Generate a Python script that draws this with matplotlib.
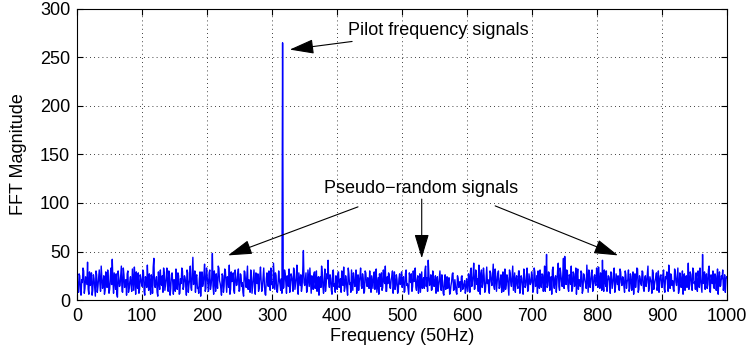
import numpy as np
import matplotlib
matplotlib.use("Agg")
import matplotlib.pyplot as plt

plt.rcParams['font.family'] = ['Liberation Sans', 'DejaVu Sans']

# magnitude at even frequency bins (0, 2, 4, ...)
magnitude_even = [
    22, 8, 25, 5, 18, 30, 12, 20, 39, 6, 15, 28, 10, 22, 4, 26, 14, 31, 9, 24, 17, 6, 29, 13, 21,
    11, 33, 42, 7, 19, 27, 3, 23, 15, 35, 8, 26, 18, 5, 30, 12, 24, 9, 20, 34, 6, 16, 28, 11, 22,
    14, 29, 5, 21, 36, 10, 18, 26, 7, 43, 13, 24, 4, 19, 31, 15, 8, 27, 17, 33, 9, 22, 12, 28, 6,
    20, 32, 11, 25, 7, 17, 30, 14, 23, 5, 28, 16, 35, 10, 44, 19, 8, 26, 13, 22, 4, 29, 18, 37, 12,
    24, 9, 31, 15, 48, 6, 21, 27, 12, 33, 17, 5, 25, 14, 30, 8, 22, 36, 11, 19, 28, 7, 24, 16, 32,
    10, 26, 18, 4, 29, 13, 35, 21, 8, 24, 15, 31, 6, 20, 27, 12, 34, 9, 23, 17, 5, 28, 14, 22, 33,
    19, 38, 11, 25, 8, 30, 16, 22, 265, 13, 27, 7, 20, 32, 12, 24, 9, 29, 17, 36, 6, 21, 26, 14, 51,
    15, 28, 10, 23, 33, 7, 19, 26, 12, 30, 18, 5, 24, 35, 14, 21, 9, 27, 41, 13, 22, 6, 31, 17, 25,
    11, 29, 16, 8, 24, 34, 13, 20, 5, 27, 18, 31, 10, 23, 15, 7, 26, 19, 33, 12, 22, 9, 28, 14, 21,
    30, 8, 18, 25, 11, 32, 16, 6, 23, 28, 13, 20, 35, 9, 17, 26, 12, 24, 7, 29, 15, 21, 10, 27, 18,
    13, 24, 9, 31, 17, 6, 22, 27, 14, 19, 33, 10, 25, 16, 8, 29, 20, 12, 35, 23, 41, 15, 26, 11, 21,
    18, 7, 24, 14, 30, 10, 20, 5, 26, 16, 12, 23, 8, 19, 28, 11, 15, 6, 22, 17, 9, 25, 13, 20, 10,
    16, 27, 8, 33, 19, 38, 12, 29, 22, 36, 6, 31, 17, 25, 10, 34, 21, 7, 28, 15, 37, 11, 24, 18, 30,
    13, 26, 20, 9, 32, 16, 23, 5, 28, 14, 35, 19, 8, 25, 12, 30, 17, 22, 6, 27, 15, 33, 10, 21, 18,
    24, 11, 29, 16, 7, 22, 31, 13, 26, 19, 9, 47, 15, 28, 21, 6, 34, 12, 25, 18, 38, 10, 27, 14, 43,
    45, 16, 30, 9, 23, 35, 12, 27, 18, 6, 32, 21, 14, 28, 10, 25, 17, 36, 8, 24, 19, 31, 11, 26, 15,
    22, 34, 12, 27, 41, 9, 20, 30, 16, 24, 7, 28, 18, 33, 13, 21, 25, 10, 29, 15, 23, 8, 26, 19, 31,
    12, 24, 17, 6, 27, 20, 32, 11, 22, 15, 29, 9, 25, 18, 35, 13, 21, 7, 28, 16, 23, 10, 30, 19, 26,
    14, 31, 8, 22, 17, 36, 12, 25, 20, 9, 29, 15, 33, 11, 24, 18, 6, 27, 21, 13, 38, 16, 26, 10, 30,
    19, 28, 9, 24, 33, 14, 47, 20, 11, 27, 16, 35, 8, 23, 30, 12, 25, 18, 6, 29, 15, 22, 10, 26, 21,
]
# magnitude at odd frequency bins (1, 3, 5, ...)
magnitude_odd = [
    14, 27, 9, 21, 33, 7, 24, 16, 11, 29, 18, 5, 26, 13, 30, 8, 22, 17, 35, 12, 25, 10, 19, 31, 7,
    24, 16, 20, 28, 11, 6, 30, 14, 25, 9, 33, 13, 21, 27, 8, 19, 15, 32, 10, 23, 29, 12, 7, 26, 17,
    31, 9, 24, 13, 18, 27, 6, 22, 34, 15, 20, 8, 29, 11, 17, 25, 33, 10, 23, 14, 30, 5, 26, 19, 21,
    9, 15, 28, 6, 22, 33, 11, 25, 17, 31, 8, 21, 13, 27, 16, 30, 24, 12, 7, 29, 19, 14, 26, 9, 33,
    18, 28, 11, 23, 14, 30, 9, 17, 35, 20, 12, 27, 8, 32, 19, 24, 13, 6, 29, 22, 10, 31, 15, 26, 9,
    27, 14, 8, 30, 19, 24, 11, 16, 31, 7, 23, 12, 28, 17, 9, 25, 20, 13, 33, 6, 22, 18, 30, 10, 16,
    12, 24, 28, 9, 17, 21, 10, 7, 12, 31, 18, 25, 14, 8, 27, 19, 33, 11, 23, 12, 28, 15, 9, 30, 18,
    22, 8, 31, 14, 19, 25, 11, 29, 17, 9, 24, 20, 13, 28, 7, 32, 16, 22, 18, 26, 10, 29, 14, 8, 20,
    27, 13, 22, 30, 15, 9, 25, 11, 33, 16, 8, 21, 28, 14, 31, 19, 10, 24, 15, 27, 7, 30, 18, 23, 12,
    16, 25, 12, 29, 20, 8, 23, 27, 14, 10, 31, 17, 9, 24, 28, 13, 21, 30, 15, 11, 26, 7, 22, 16, 29,
    21, 8, 27, 15, 11, 28, 18, 9, 30, 24, 13, 21, 7, 27, 19, 12, 23, 31, 14, 9, 26, 18, 10, 30, 14,
    25, 13, 9, 22, 16, 26, 7, 18, 11, 24, 20, 6, 15, 27, 10, 21, 8, 25, 13, 19, 24, 11, 17, 7, 22,
    9, 21, 30, 14, 25, 11, 31, 16, 9, 24, 28, 13, 33, 8, 22, 17, 12, 30, 19, 26, 14, 32, 9, 27, 12,
    22, 8, 29, 17, 11, 26, 14, 31, 18, 24, 10, 28, 21, 15, 30, 7, 25, 11, 32, 13, 23, 9, 27, 16, 29,
    8, 33, 14, 25, 30, 12, 19, 27, 9, 35, 22, 13, 29, 10, 24, 31, 16, 23, 8, 30, 14, 33, 19, 26, 12,
    21, 31, 12, 26, 16, 9, 29, 14, 33, 24, 11, 18, 30, 7, 27, 20, 12, 22, 31, 13, 28, 9, 24, 17, 33,
    13, 19, 28, 10, 17, 31, 14, 9, 25, 20, 29, 12, 23, 8, 27, 16, 11, 32, 18, 24, 14, 30, 12, 21, 9,
    27, 10, 29, 21, 13, 33, 8, 25, 17, 30, 12, 22, 14, 27, 9, 24, 18, 31, 11, 20, 28, 14, 8, 25, 13,
    26, 12, 24, 29, 9, 21, 27, 15, 11, 32, 18, 24, 7, 28, 13, 30, 22, 10, 25, 16, 11, 29, 14, 33, 17,
    11, 15, 30, 13, 21, 8, 17, 29, 24, 12, 31, 9, 26, 17, 13, 27, 10, 32, 20, 14, 25, 31, 16, 8, 24,
]

magnitude = np.empty(len(magnitude_even) + len(magnitude_odd))
magnitude[0::2] = magnitude_even
magnitude[1::2] = magnitude_odd
frequency = np.arange(len(magnitude))

x_ticks = [0, 100, 200, 300, 400, 500, 600, 700, 800, 900, 1000]
y_ticks = [0, 50, 100, 150, 200, 250, 300]

FS = 13

fig = plt.figure(figsize=(7.49, 3.53), dpi=100)
ax = fig.add_axes([0.103, 0.150, 0.868, 0.825])
ax.plot(frequency, magnitude, color='#0000ff', lw=1.0)
ax.set_xlim(0, 1000)
ax.set_ylim(0, 300)
ax.set_xticks(x_ticks)
ax.set_yticks(y_ticks)
ax.tick_params(direction='in', length=4, labelsize=FS, top=True, right=True)
ax.tick_params(axis='x', pad=6)
ax.tick_params(axis='y', pad=5)
ax.grid(True, color='k', linestyle=(0, (1, 4)), lw=0.6)
for s in ax.spines.values():
    s.set_linewidth(0.8)
ax.set_xlabel('Frequency (50Hz)', fontsize=FS, labelpad=2)
ax.set_ylabel('FFT Magnitude', fontsize=FS, labelpad=9)

aprops = dict(arrowstyle='-|>,head_length=1.5,head_width=0.45', color='k', lw=0.8,
              mutation_scale=10, shrinkA=0, shrinkB=0)
ax.annotate('Pilot frequency signals', xy=(327, 258), xytext=(417, 278),
            fontsize=FS, ha='left', va='center', arrowprops=aprops)
ax.annotate('', xy=(232, 46), xytext=(432, 96), arrowprops=aprops)
ax.annotate('', xy=(530, 43), xytext=(530, 104), arrowprops=aprops)
ax.annotate('', xy=(832, 46), xytext=(643, 97), arrowprops=aprops)
ax.text(529, 115, 'Pseudo\u2212random signals', fontsize=FS, ha='center', va='center')

fig.savefig('out.png', dpi=100)
